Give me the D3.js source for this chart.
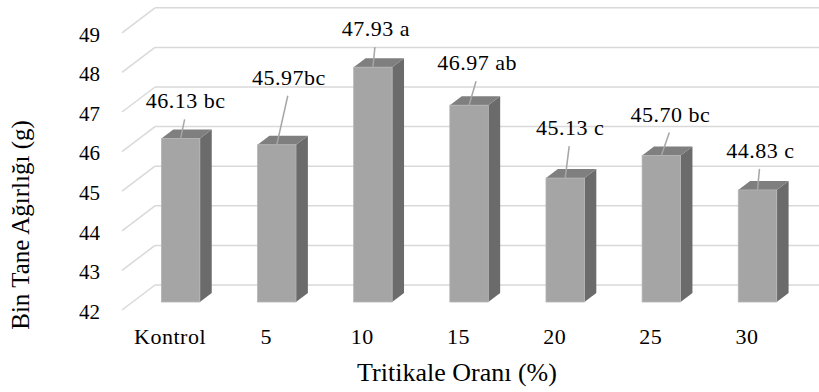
<!DOCTYPE html>
<html>
<head>
<meta charset="utf-8">
<script src="https://cdn.jsdelivr.net/npm/d3@7"></script>
<style>
  body { margin: 0; background: #fff; }
</style>
</head>
<body>
<svg id="chart" width="819" height="392"></svg>
<script>
let categories = ["Kontrol", "5", "10", "15", "20", "25", "30"];
let values = [46.13, 45.97, 47.93, 46.97, 45.13, 45.70, 44.83];
let letters = ["bc", "bc", "a", "ab", "c", "bc", "c"];
let yTicks = [42, 43, 44, 45, 46, 47, 48, 49];

// label nudges (layout only), relative to the bar's front top centre
let labelNudge = [[5, -35], [12, -65], [3, -36], [8, -40], [5, -48], [9, -39], [3, -37]];

let serif = "'Liberation Serif', 'Times New Roman', Times, serif";
let depth = { dx: 33, dy: 25 };   // side wall depth offset
let barFront = 0.32, barBack = 0.68;

let svg = d3.select("#chart");

let x = d3.scaleBand()
    .domain(categories)
    .range([155, 828])
    .paddingInner(0.6)
    .paddingOuter(0.3);

let y = d3.scaleLinear()
    .domain([42, 49])
    .range([285, 7.8]);

// project a point on the back wall forward to depth d (0 = front, 1 = back)
function px(xb, d) { return xb - depth.dx * (1 - d); }
function py(yb, d) { return yb + depth.dy * (1 - d); }

// gridlines: back wall + left side wall
let grid = svg.append("g");
yTicks.forEach((t) => {
    grid.append("line")
        .attr("x1", 155).attr("x2", 819)
        .attr("y1", y(t)).attr("y2", y(t))
        .attr("stroke", "#d9d9d9").attr("stroke-width", 1.5);
    grid.append("line")
        .attr("x1", px(155, 0)).attr("y1", py(y(t), 0))
        .attr("x2", 155).attr("y2", y(t))
        .attr("stroke", "#d9d9d9").attr("stroke-width", 1.5);
});

// y tick labels
svg.append("g").selectAll("text")
    .data(yTicks)
    .enter()
    .append("text")
    .attr("x", 100)
    .attr("y", (d) => py(y(d), 0) + 4)
    .attr("text-anchor", "end")
    .attr("dominant-baseline", "middle")
    .style("font-family", serif)
    .style("font-size", "21px")
    .text((d) => d);

// bars
let bars = svg.append("g").selectAll("g")
    .data(values)
    .enter()
    .append("g");

bars.each(function (v, i) {
    let g = d3.select(this);
    let xl = x(categories[i]), xr = xl + x.bandwidth();
    let y0 = y(42), y1 = y(v);
    let fx0 = px(xl, barFront), fx1 = px(xr, barFront);
    let bx0 = px(xl, barBack), bx1 = px(xr, barBack);
    let fTop = py(y1, barFront), fBot = py(y0, barFront);
    let bTop = py(y1, barBack), bBot = py(y0, barBack);

    // side face
    g.append("path")
        .attr("d", `M${fx1},${fTop}L${bx1},${bTop}L${bx1},${bBot}L${fx1},${fBot}Z`)
        .attr("fill", "#6b6b6b");
    // top face
    g.append("path")
        .attr("d", `M${fx0},${fTop}L${bx0},${bTop}L${bx1},${bTop}L${fx1},${fTop}Z`)
        .attr("fill", "#7f7f7f");
    // front face
    g.append("rect")
        .attr("x", fx0).attr("y", fTop)
        .attr("width", fx1 - fx0).attr("height", fBot - fTop)
        .attr("fill", "#a5a5a5")
        .attr("stroke", "#b4b4b4").attr("stroke-width", 0.8);
});

// data labels with leader lines
bars.each(function (v, i) {
    let g = d3.select(this);
    let xl = x(categories[i]), xr = xl + x.bandwidth();
    let cx = (px(xl, barFront) + px(xr, barFront)) / 2;
    let top = py(y(v), barFront);
    let lx = cx + labelNudge[i][0], ly = top + labelNudge[i][1];
    let sep = categories[i] === "5" ? "" : " ";

    g.append("line")
        .attr("x1", lx - 1).attr("y1", ly + 16)
        .attr("x2", cx).attr("y2", top)
        .attr("stroke", "#a6a6a6").attr("stroke-width", 1.5);

    g.append("text")
        .attr("x", lx)
        .attr("y", ly)
        .attr("text-anchor", "middle")
        .attr("dominant-baseline", "middle")
        .style("font-family", serif)
        .style("font-size", "22px")
        .style("letter-spacing", "0.5px")
        .text(v.toFixed(2) + sep + letters[i]);
});

// category labels at the front of the floor
svg.append("g").selectAll("text")
    .data(categories)
    .enter()
    .append("text")
    .attr("x", (d) => px(x(d) + x.bandwidth() / 2, 0))
    .attr("y", 339)
    .attr("text-anchor", "middle")
    .attr("dominant-baseline", "middle")
    .style("font-family", serif)
    .style("font-size", "22px")
    .style("letter-spacing", "0.5px")
    .text((d) => d);

// axis titles
svg.append("text")
    .attr("x", 457)
    .attr("y", 375)
    .attr("text-anchor", "middle")
    .attr("dominant-baseline", "middle")
    .style("font-family", serif)
    .style("font-size", "26px")
    .text("Tritikale Oranı (%)");

svg.append("text")
    .attr("transform", "translate(23,225) rotate(-90)")
    .attr("text-anchor", "middle")
    .attr("dominant-baseline", "middle")
    .style("font-family", serif)
    .style("font-size", "25px")
    .text("Bin Tane Ağırlığı (g)");
</script>
</body>
</html>
